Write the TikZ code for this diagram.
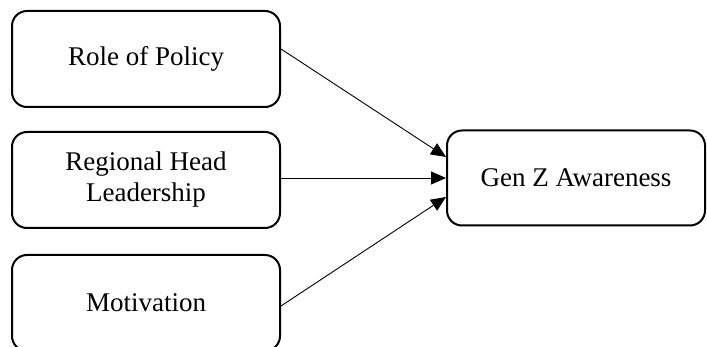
\documentclass[tikz,border=0pt]{standalone}
\usepackage{fontspec}
\setmainfont{Liberation Serif}
\usetikzlibrary{arrows.meta}
\begin{document}
\begin{tikzpicture}[x=1pt,y=-1pt,
  box/.style={draw, line width=2pt, rounded corners=15pt, align=center,
    font=\fontsize{27}{31}\selectfont, inner sep=0pt},
  leftbox/.style={box, minimum width=268pt, minimum height=96pt},
  conn/.style={line width=0.9pt, -{Triangle[length=15pt,width=13pt]}}]
\useasboundingbox (0,0) rectangle (707,347);
\clip (0,0) rectangle (707,347);
\node[leftbox] (pol) at (146,59) {Role of Policy};
\node[leftbox] (lead) at (146,180) {Regional Head\\Leadership};
\node[leftbox] (mot) at (146,303) {Motivation};
\node[box, minimum width=258pt, minimum height=95pt] (gen) at (576,178) {Gen Z Awareness};
\draw[conn] ([yshift=10pt]pol.east) -- ([yshift=21pt]gen.west);
\draw[conn] ([yshift=2pt]lead.east) -- ([yshift=0pt]gen.west);
\draw[conn] ([yshift=-3pt]mot.east) -- ([yshift=-19pt]gen.west);
\end{tikzpicture}
\end{document}
